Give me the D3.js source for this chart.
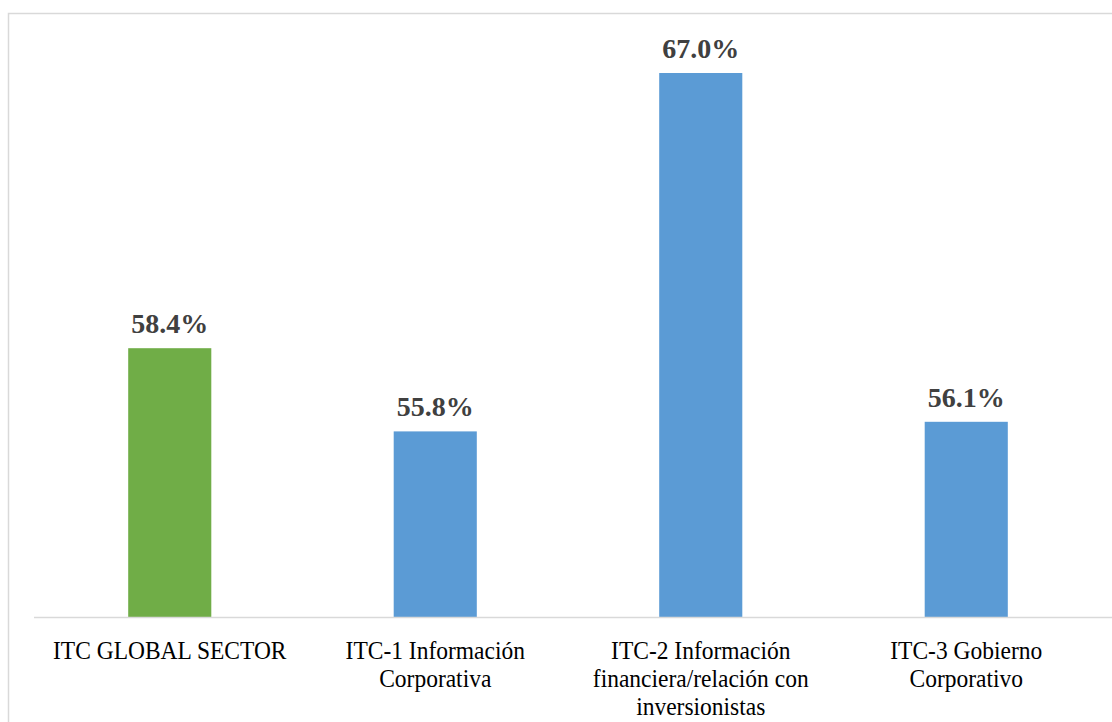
<!DOCTYPE html>
<meta charset="utf-8">
<title>ITC por sector</title>
<style>
html, body {
  margin: 0;
  overflow: hidden;
  background: #fff;
}
.frame {
  fill: none;
  stroke: #d9d9d9;
  stroke-width: 1.5px;
}
</style>
<svg width="1112" height="722"></svg>
<script src="https://d3js.org/d3.v7.min.js"></script>
<script>

// chart data
var categories = ["ITC GLOBAL SECTOR", "ITC-1 Información Corporativa", "ITC-2 Información financiera/relación con inversionistas", "ITC-3 Gobierno Corporativo"];
var labelLines = [
  ["ITC GLOBAL SECTOR"],
  ["ITC-1 Información", "Corporativa"],
  ["ITC-2 Información", "financiera/relación con", "inversionistas"],
  ["ITC-3 Gobierno", "Corporativo"]
];
var values = [58.4, 55.8, 67.0, 56.1];
var barColors = ["#70ad47", "#5b9bd5", "#5b9bd5", "#5b9bd5"];

var serif = "'Liberation Serif'";

var svg = d3.select("svg");

// outer frame (runs off the right and bottom edges)
svg.append("rect")
    .attr("class", "frame")
    .attr("x", 8.5)
    .attr("y", 13.5)
    .attr("width", 1200)
    .attr("height", 800);

var baseY = 617;

var x = d3.scaleBand()
    .domain(categories)
    .range([37, 1099])
    .paddingInner(0.687)
    .paddingOuter(0.3435);

var y = d3.scaleLinear()
    .domain([50, 68])
    .range([baseY, 41]);

var g = svg.append("g");

// bars
g.selectAll("rect.bar")
  .data(values)
  .enter().append("rect")
    .attr("class", "bar")
    .attr("x", function(d, i) { return x(categories[i]); })
    .attr("y", function(d) { return y(d); })
    .attr("width", x.bandwidth())
    .attr("height", function(d) { return baseY - y(d); })
    .style("fill", function(d, i) { return barColors[i]; });

// baseline
svg.append("line")
    .attr("x1", 34)
    .attr("x2", 1112)
    .attr("y1", baseY + 0.5)
    .attr("y2", baseY + 0.5)
    .style("stroke", "#d9d9d9")
    .style("stroke-width", 1.5);

// value labels
g.selectAll("text.val")
  .data(values)
  .enter().append("text")
    .attr("class", "val")
    .attr("x", function(d, i) { return x(categories[i]) + x.bandwidth() / 2; })
    .attr("y", function(d) { return y(d) - 15; })
    .style("font-family", serif)
    .style("font-size", "28px")
    .style("font-weight", "bold")
    .style("fill", "#404040")
    .style("text-anchor", "middle")
    .text(function(d) { return d.toFixed(1) + "%"; });

// category labels, text is a little taller than wide in the original
var sy = 1.08;
var cat = svg.selectAll("g.catlabel")
  .data(categories)
  .enter().append("g")
    .attr("class", "catlabel")
    .attr("transform", function(d) {
      return "translate(" + (x(d) + x.bandwidth() / 2) + "," + 659 + ") scale(1," + sy + ")";
    });

cat.append("text")
    .style("font-family", serif)
    .style("font-size", "23.5px")
    .style("fill", "#000")
    .style("text-anchor", "middle")
    .selectAll("tspan")
    .data(function(d, i) { return labelLines[i]; })
    .enter().append("tspan")
      .attr("x", 0)
      .attr("y", function(d, i) { return i * 28 / sy; })
      .text(function(d) { return d; });

</script>
